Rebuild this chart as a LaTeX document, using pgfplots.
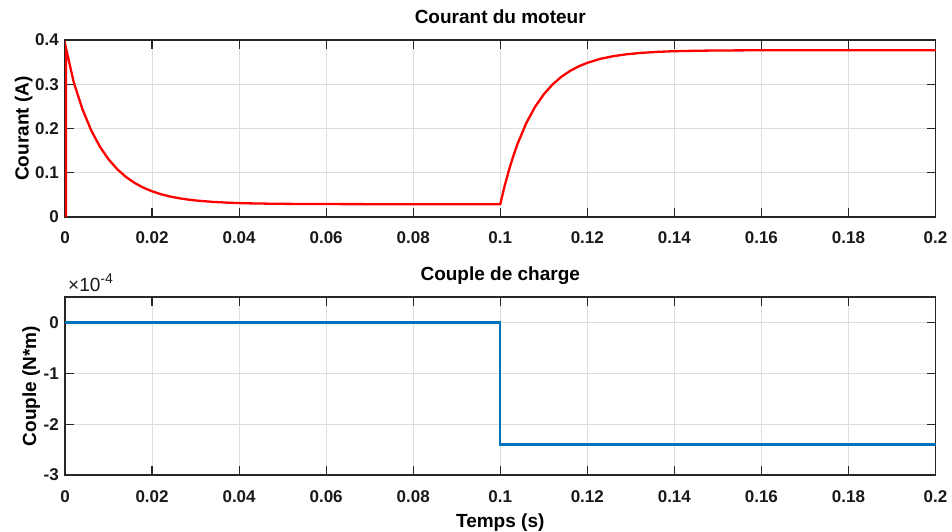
\documentclass[border=0pt]{standalone}
\usepackage{fontspec}
\setmainfont{Liberation Sans}
\usepackage{pgfplots}
\pgfplotsset{compat=1.18}
\definecolor{mred}{RGB}{255,0,0}
\definecolor{mblue}{RGB}{0,114,189}
\definecolor{axcol}{RGB}{38,38,38}
\pgfplotsset{
  mstyle/.style={
    scale only axis,
    width=870.5pt,
    xmin=0, xmax=0.2,
    xtick={0,0.02,0.04,0.06,0.08,0.1,0.12,0.14,0.16,0.18,0.2},
    xticklabels={0,0.02,0.04,0.06,0.08,0.1,0.12,0.14,0.16,0.18,0.2},
    tick align=inside,
    major tick length=8.7pt,
    axis line style={axcol, line width=1.2pt},
    every tick/.style={axcol, line width=1.2pt},
    grid=major,
    major grid style={black!13, line width=0.9pt},
    tick label style={font=\fontsize{17}{17}\selectfont\bfseries, text=black!90},
    xticklabel style={anchor=base, yshift=-27pt, inner sep=0pt},
    yticklabel style={anchor=east, xshift=-6pt, inner sep=0pt},
    /pgf/number format/assume math mode=true,
    title style={font=\fontsize{19}{19}\selectfont\bfseries, at={(axis description cs:0.5,1)}, anchor=base, yshift=10.5pt, inner sep=0pt},
    label style={font=\fontsize{19}{19}\selectfont\bfseries},
  }
}
\begin{document}
\begin{tikzpicture}
\useasboundingbox (0,0) rectangle (952pt,532pt);
% top axis
\begin{axis}[mstyle,
  at={(65pt,315pt)}, anchor=south west,
  height=177pt,
  ymin=0, ymax=0.4,
  ytick={0,0.1,0.2,0.3,0.4},
  yticklabels={0,0.1,0.2,0.3,0.4},
  title={Courant du moteur},
  ylabel={Courant (A)},
  ylabel style={at={(axis description cs:-0.0419,0.5)}, anchor=base, inner sep=0pt},
]
\addplot[mred, line width=2.3pt] coordinates {
(0.0002,0) (0.0002,0.383) (0.002,0.3047) (0.004,0.2437) (0.006,0.1962) (0.008,0.1592)
(0.010,0.1304) (0.012,0.1080) (0.014,0.0905) (0.016,0.0769) (0.018,0.0663)
(0.020,0.0581) (0.022,0.0516) (0.024,0.0466) (0.026,0.0427) (0.028,0.0397)
(0.030,0.0373) (0.034,0.0341) (0.038,0.0321) (0.042,0.0309) (0.048,0.0299)
(0.056,0.0293) (0.070,0.0290) (0.100,0.0290)
(0.101,0.0699) (0.102,0.1060) (0.103,0.1378) (0.104,0.1659) (0.106,0.2126)
(0.108,0.2490) (0.110,0.2773) (0.112,0.2994) (0.114,0.3165) (0.116,0.3299)
(0.118,0.3403) (0.120,0.3484) (0.123,0.3574) (0.126,0.3635) (0.129,0.3677)
(0.132,0.3706) (0.136,0.3731) (0.140,0.3747) (0.145,0.3757) (0.150,0.3763)
(0.160,0.3768) (0.200,0.3770)
};
\end{axis}
% bottom axis
\begin{axis}[mstyle, name=bot,
  at={(65pt,57pt)}, anchor=south west,
  height=178pt,
  ymin=-0.0003, ymax=0.00005,
  scaled y ticks=false,
  ytick={-0.0003,-0.0002,-0.0001,0},
  yticklabels={-3,-2,-1,0},
  title={Couple de charge},
  xlabel={Temps (s)},
  xlabel style={at={(axis description cs:0.5,0)}, anchor=base, yshift=-52pt, inner sep=0pt},
  ylabel={Couple (N*m)},
  ylabel style={at={(axis description cs:-0.0333,0.5)}, anchor=base, inner sep=0pt},
]
\addplot[mblue, line width=2.3pt] coordinates {
(0,0) (0.1,0) (0.1,-0.00024) (0.2,-0.00024)
};
\end{axis}
\node[anchor=base west, inner sep=0pt, font=\fontsize{19}{19}\selectfont, text=black!90]
  at ([xshift=3pt, yshift=5.5pt]bot.north west) {×10\raisebox{7.5pt}{\fontsize{14}{14}\selectfont -4}};
\end{tikzpicture}
\end{document}
